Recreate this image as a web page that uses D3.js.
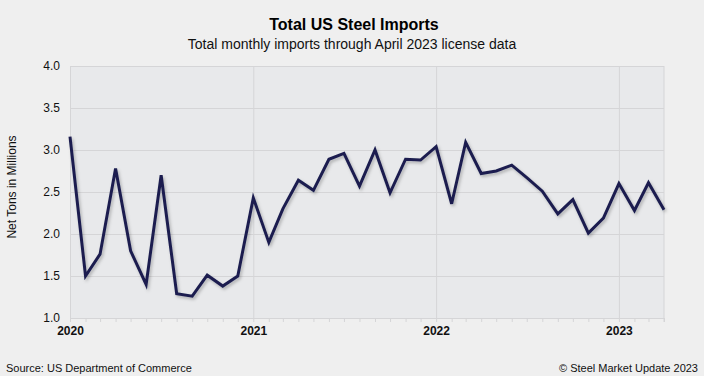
<!DOCTYPE html>
<html>
<head>
<meta charset="utf-8">
<script src="https://cdn.jsdelivr.net/npm/d3@7"></script>
<style>
  body { margin: 0; background: #efefef; }
  text { font-family: "Liberation Sans", Arial, sans-serif; }
</style>
</head>
<body>
<script>
// chart size
var w = 704;
var h = 376;
var margin = { top: 66, right: 40, bottom: 58, left: 70 };

// monthly imports, Jan 2020 to Apr 2023 (million net tons)
var months = d3.timeMonths(new Date(2020, 0, 1), new Date(2023, 4, 1));
var imports = [
  3.16, 1.50, 1.76, 2.78, 1.80, 1.40, 2.70, 1.29, 1.26, 1.51, 1.38, 1.50,
  2.43, 1.90, 2.30, 2.64, 2.52, 2.89, 2.96, 2.57, 3.00, 2.49, 2.89, 2.88,
  3.04, 2.36, 3.09, 2.72, 2.75, 2.82, 2.67, 2.51, 2.24, 2.41, 2.01, 2.19,
  2.60, 2.28, 2.61, 2.29
];
var yTicks = [1.0, 1.5, 2.0, 2.5, 3.0, 3.5, 4.0];
var yearTicks = [new Date(2020, 0, 1), new Date(2021, 0, 1), new Date(2022, 0, 1), new Date(2023, 0, 1)];

var svg = d3.select("body").append("svg")
    .attr("width", w)
    .attr("height", h);

svg.append("rect").attr("width", w).attr("height", h).attr("fill", "#efefef");

// drop shadow for the line
var filter = svg.append("defs").append("filter")
    .attr("id", "shadow")
    .attr("x", "-10%").attr("y", "-10%")
    .attr("width", "120%").attr("height", "120%");
filter.append("feDropShadow")
    .attr("dx", 1.5).attr("dy", 2)
    .attr("stdDeviation", 1.5)
    .attr("flood-color", "#000")
    .attr("flood-opacity", 0.25);

var x = d3.scaleTime()
    .domain([months[0], months[months.length - 1]])
    .range([margin.left, w - margin.right]);

var y = d3.scaleLinear()
    .domain([1, 4])
    .range([h - margin.bottom, margin.top]);

// plot background
svg.append("rect")
    .attr("x", margin.left)
    .attr("y", margin.top)
    .attr("width", w - margin.left - margin.right)
    .attr("height", h - margin.top - margin.bottom)
    .attr("fill", "#e8e9eb");

// horizontal grid + y labels
var yAxis = svg.append("g")
    .attr("transform", "translate(" + margin.left + ",0)")
    .call(d3.axisLeft(y).tickValues(yTicks).tickFormat(d3.format(".1f"))
        .tickSize(-(w - margin.left - margin.right)).tickPadding(10));
yAxis.select(".domain").remove();
yAxis.selectAll("line").attr("stroke", "#d5d5d7");
yAxis.selectAll("text").attr("font-size", 12).attr("fill", "#111");

// month ticks
var monthAxis = svg.append("g")
    .attr("transform", "translate(0," + (h - margin.bottom) + ")")
    .call(d3.axisBottom(x).tickValues(months).tickSize(4).tickFormat(""));
monthAxis.select(".domain").attr("stroke", "#d5d5d7");
monthAxis.selectAll("line").attr("stroke", "#d5d5d7");

// year grid + labels
var yearAxis = svg.append("g")
    .attr("transform", "translate(0," + (h - margin.bottom) + ")")
    .call(d3.axisBottom(x).tickValues(yearTicks)
        .tickSize(-(h - margin.top - margin.bottom)).tickPadding(8)
        .tickFormat(d3.timeFormat("%Y")));
yearAxis.select(".domain").remove();
yearAxis.selectAll("line").attr("stroke", "#d5d5d7");
yearAxis.selectAll("text").attr("font-size", 12).attr("font-weight", "bold").attr("fill", "#111");

// right border
svg.append("line")
    .attr("x1", w - margin.right).attr("x2", w - margin.right)
    .attr("y1", margin.top).attr("y2", h - margin.bottom + 4)
    .attr("stroke", "#d5d5d7");

// the data line
var line = d3.line()
    .x(function (d, i) { return x(months[i]); })
    .y(function (d) { return y(d); });

svg.append("path")
    .datum(imports)
    .attr("d", line)
    .attr("fill", "none")
    .attr("stroke", "#1b1f4f")
    .attr("stroke-width", 3)
    .attr("stroke-linejoin", "miter")
    .attr("filter", "url(#shadow)");

// titles
svg.append("text")
    .attr("x", 354).attr("y", 30)
    .attr("text-anchor", "middle")
    .attr("font-size", 16).attr("font-weight", "bold")
    .attr("fill", "#000")
    .text("Total US Steel Imports");

svg.append("text")
    .attr("x", 352).attr("y", 49)
    .attr("text-anchor", "middle")
    .attr("font-size", 14)
    .attr("fill", "#111")
    .text("Total monthly imports through April 2023 license data");

svg.append("text")
    .attr("transform", "translate(16,187) rotate(-90)")
    .attr("text-anchor", "middle")
    .attr("font-size", 12)
    .attr("fill", "#111")
    .text("Net Tons in Millions");

// footer
svg.append("text")
    .attr("x", 6).attr("y", 372)
    .attr("font-size", 11)
    .attr("fill", "#111")
    .text("Source: US Department of Commerce");

svg.append("text")
    .attr("x", 698).attr("y", 372)
    .attr("text-anchor", "end")
    .attr("font-size", 11)
    .attr("fill", "#111")
    .text("© Steel Market Update 2023");
</script>
</body>
</html>
